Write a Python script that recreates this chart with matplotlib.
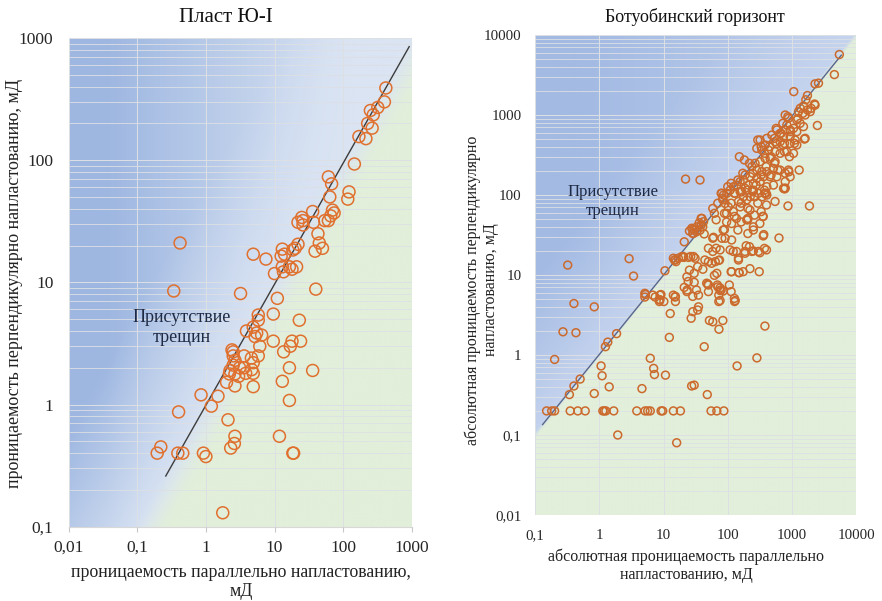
import numpy as np
import matplotlib
matplotlib.use("Agg")
import matplotlib.pyplot as plt
from matplotlib.ticker import FixedLocator, FixedFormatter, LogLocator, NullFormatter

plt.rcParams['font.family'] = ['Liberation Serif', 'DejaVu Serif']

# ---------------- data: left panel (Пласт Ю-I) ----------------
left_title = "Пласт Ю-I"
left_x = [420, 400, 320, 250, 275, 228, 265, 170, 215, 146, 61, 68, 122, 117, 64, 36, 70, 74, 66, 25,
          22, 26, 37, 54, 61, 26, 43, 45, 50, 39, 22, 20, 18.5, 13, 14, 12.5, 4.9, 7.5, 13, 16.5,
          21, 18, 13.5, 10, 0.42, 0.34, 3.2, 11, 40,
          5.8, 5.8, 9.6, 23, 3.9, 4.9, 5.2, 6.5, 5.5, 9.6, 18, 24, 17, 13.6, 6.1, 2.4, 2.5, 2.5, 3.6, 5.8,
          4.6, 4.9, 2.65, 2.5, 2.25, 3.1, 3.6, 4.65, 3.8, 4.9, 2.65, 3.0, 2.2, 16.5, 36, 13, 2.0, 2.65,
          4.9, 0.85, 1.5, 16.5, 1.2, 0.4, 2.1, 11.8, 2.65, 2.6, 2.3, 0.22, 0.195, 0.39, 0.46, 0.92, 1.0,
          18.5, 19, 1.76]
left_y = [390, 300, 270, 255, 235, 200, 183, 156, 150, 93, 73, 64, 55, 48, 50, 38, 39, 37, 35, 34,
          31, 32, 31, 32, 32, 29.5, 25, 21, 19, 18, 20.5, 19, 18.4, 18.7, 17, 16.4, 17, 15.5, 13.4, 13.4,
          13.4, 12.8, 12.2, 11.8, 21, 8.5, 8.1, 7.4, 8.8,
          5.4, 4.9, 5.5, 4.9, 4.0, 4.3, 3.6, 3.7, 3.85, 3.3, 3.3, 3.3, 3.0, 2.7, 3.0, 2.8, 2.7, 2.5, 2.5, 2.5,
          2.4, 2.2, 2.3, 2.1, 1.9, 2.0, 2.0, 1.93, 1.8, 1.8, 1.78, 1.7, 1.78, 2.0, 1.9, 1.55, 1.52, 1.42,
          1.4, 1.2, 1.17, 1.08, 0.97, 0.87, 0.75, 0.55, 0.55, 0.48, 0.44, 0.45, 0.4, 0.4, 0.4, 0.4, 0.375,
          0.4, 0.4, 0.13]
left_line_x = [0.26, 920]
left_line_y = [0.26, 850]
left_xticks = [0.01, 0.1, 1, 10, 100, 1000]
left_xlabels = ["0,01", "0,1", "1", "10", "100", "1000"]
left_yticks = [0.1, 1, 10, 100, 1000]
left_ylabels = ["0,1", "1", "10", "100", "1000"]
left_xlabel = "проницаемость параллельно напластованию,\nмД"
left_ylabel = "проницаемость перпендикулярно напластованию, мД"
left_note = "Присутствие\nтрещин"

# ---------------- data: right panel (Ботуобинский горизонт) ----------------
right_title = "Ботуобинский горизонт"
right_pts = [
    (5500, 5700), (4600, 3200), (2600, 2500), (2300, 2450), (1070, 1960), (1750, 1750), (1650, 1550),
    (2300, 1330), (2500, 740), (1570, 500), (1300, 205), (900, 195), (1880, 73), (870, 73), (770, 119),
    (630, 29), (22, 158), (37, 154), (0.32, 13.3), (2.9, 16), (3.4, 9.7), (310, 11),
    (0.4, 4.4), (0.83, 4.0), (0.27, 1.95), (0.43, 1.9), (0.2, 0.88), (1.85, 1.85), (1.35, 1.45),
    (1.24, 1.27), (0.5, 0.5), (0.4, 0.41), (0.34, 0.32),
    (0.15, 0.2), (0.18, 0.2), (0.2, 0.2), (0.35, 0.2), (0.46, 0.2), (0.6, 0.2), (1.13, 0.2), (1.19, 0.2),
    (1.26, 0.2), (1.67, 0.2), (3.82, 0.2), (5.14, 0.2), (5.65, 0.2), (6.2, 0.2), (9.15, 0.2), (9.7, 0.2),
    (14.2, 0.2), (18.3, 0.2), (55, 0.2), (67.6, 0.2), (87, 0.2),
    (1.93, 0.1), (16, 0.08), (0.83, 0.33), (1.06, 0.73), (1.1, 0.55), (1.42, 0.4), (4.6, 0.38),
    (6.2, 0.91), (7.0, 0.68), (7.2, 0.57), (10.7, 0.56), (12.3, 1.66), (12.7, 3.3), (26.9, 2.88),
    (28.6, 3.48), (34, 3.65), (35, 4.0), (51.8, 2.7), (58.5, 2.6), (84, 2.7), (73, 2.1), (43, 1.27),
    (140, 0.73), (285, 0.92), (380, 2.3), (27.4, 0.41), (30, 0.42), (48, 0.32),
    (10.1, 4.66), (8.6, 4.66), (15.3, 4.66), (128, 4.66), (72.6, 4.66),
    (5.1, 5.9), (5.1, 5.3), (7.4, 5.3), (8.8, 4.9), (15.1, 5.3), (10.5, 11.3), (15.1, 15.4), (21, 26),
    (23.1, 9.5), (24.2, 8.3), (23.1, 6.2), (30, 8.1), (26.5, 17), (31, 16.2), (32.6, 6.5), (27.5, 38.4),
    (32.6, 34.7), (14.2, 16.2), (17, 16.2), (20.4, 17),
    (15.6, 14.7), (28.6, 37.3), (29.3, 33.2), (37, 36.3), (39.5, 51), (42, 46.4), (38.6, 42.2),
    (43, 32.6), (58.5, 28.8), (66, 21.6), (50, 21.6), (58.5, 19.7), (76, 20.6), (74.5, 15.4), (64, 14.7),
    (50, 14.7), (85, 36.5), (91, 28.8), (115, 27.4), (109, 20.6), (137, 19.7), (147, 16.2), (194, 23.2),
    (186, 19.7), (237, 19.7), (302, 19.7), (251, 36.5), (358, 30.8), (222, 12), (115, 11), (174, 11),
    (67.6, 10.5), (47, 7.9), (69, 7.5), (76, 6.4), (50, 6.2), (35, 5.6), (19.2, 17), (14.2, 5.6),
    (8.8, 5.6),
    (80.7, 105), (84, 91), (91, 78.5), (96, 59), (102, 71), (122, 62), (147, 83), (156, 71), (137, 51),
    (165, 110), (198, 87), (222, 65), (264, 95), (377, 105), (402, 75), (547, 83), (788, 122), (358, 54),
    (317, 44), (251, 40), (198, 49), (115, 44), (96, 46),
    (205, 49), (89, 37), (60, 29.6), (81, 28.8), (122, 19.7), (186, 18.7), (251, 20), (317, 19),
    (402, 20.6), (147, 15.4), (44, 15.4), (56, 14), (72, 15.2), (151, 10.7), (50, 7.5), (76, 6.9),
    (85, 6.3), (76, 4.8), (131, 4.8),
    (787, 1000), (885, 908), (834, 750), (940, 650), (787, 650), (656, 590), (741, 536), (1060, 681),
    (1194, 619), (1345, 787), (1517, 715), (1610, 511), (1125, 487), (940, 442), (723, 422), (583, 442),
    (487, 562), (407, 511), (383, 422), (320, 487), (284, 383), (340, 365), (432, 365), (548, 348),
    (656, 332), (834, 348), (1060, 332), (458, 287), (548, 261), (383, 287), (320, 261), (267, 249),
    (238, 226), (284, 205), (340, 196), (407, 196), (516, 215), (656, 205), (885, 205), (458, 169),
    (361, 169), (284, 162), (224, 169), (187, 178), (176, 154), (156, 147), (138, 133), (123, 127),
    (109, 115), (97, 105), (86, 100), (130, 105), (156, 110), (187, 121), (210, 133), (252, 140),
    (320, 147), (407, 127), (516, 133), (741, 121), (252, 115), (301, 105), (407, 100), (176, 95),
    (224, 95), (1194, 866), (548, 464), (656, 464), (1194, 422), (940, 536), (583, 650), (583, 169),
    (787, 187), (940, 169), (787, 147), (383, 105), (1518, 1296), (1350, 1214), (1270, 1101),
    (1610, 1000), (1750, 1155), (1930, 1101),
    (38.5, 51), (36, 45), (33, 40), (30, 36.5), (28.5, 33), (25.3, 35.5), (40.8, 40), (14.8, 15.4),
    (20.6, 16.6), (24.4, 16.6), (29.3, 17), (25.3, 11.5), (30, 10.5), (41, 11.8), (34, 12.7), (5.2, 5.7),
    (6.8, 5.6), (9.1, 5.7), (8.6, 4.9), (15.3, 5.4), (23.3, 6.5), (21, 7), (28.5, 5.4), (72.6, 5.6),
    (127, 5.1), (62, 9.9), (70, 7.1), (79, 6.5), (113, 6.2), (49, 7.7), (106, 7.5), (113, 11),
    (149, 10.7), (218, 22.6), (374, 21.5), (261, 97), (344, 95), (397, 105), (1099, 442), (767, 442),
    (953, 619), (681, 590), (536, 511), (448, 402), (767, 348), (918, 301), (2000, 1211), (2255, 1372),
    (1483, 1050), (1239, 908), (865, 953), (723, 787), (569, 681), (294, 487), (332, 402), (374, 332),
    (475, 301), (536, 249), (397, 226), (604, 205), (475, 178), (332, 178), (246, 187), (218, 249),
    (182, 274), (152, 301), (172, 187), (144, 154), (113, 140), (100, 127), (127, 105), (162, 110),
    (201, 115), (246, 110), (162, 79), (206, 68), (294, 79), (332, 62), (277, 133), (374, 115),
    (79, 105), (84, 87), (70, 79), (62, 59), (89, 59), (113, 79), (66, 49), (58.5, 68), (127, 54),
    (162, 46), (206, 51), (261, 56), (144, 36.5), (206, 33), (352, 54), (365, 32),
]
right_x = [p[0] for p in right_pts]
right_y = [p[1] for p in right_pts]
right_line_x = [0.13, 5900]
right_line_y = [0.135, 5600]
right_xticks = [0.1, 1, 10, 100, 1000, 10000]
right_xlabels = ["0,1", "1", "10", "100", "1000", "10000"]
right_yticks = [0.01, 0.1, 1, 10, 100, 1000, 10000]
right_ylabels = ["0,01", "0,1", "1", "10", "100", "1000", "10000"]
right_xlabel = "абсолютная проницаемость параллельно\nнапластованию, мД"
right_ylabel = "абсолютная проницаемость перпендикулярно\nнапластованию, мД"
right_note = "Присутствие\nтрещин"

# ---------------- figure ----------------
W, H = 882, 601
fig = plt.figure(figsize=(W / 100, H / 100), dpi=100)
fig.patch.set_facecolor('white')


def background(ax, xlog, ylog, light, dark, green, center, half, hslope):
    n = 400
    u = np.linspace(0, 1, n)
    v = np.linspace(1, 0, n)
    U, V = np.meshgrid(u, v)
    lx = xlog[0] + (xlog[1] - xlog[0]) * U
    ly = ylog[0] + (ylog[1] - ylog[0]) * V
    d = ly - lx
    t = np.clip((d - center) / 2.0, 0, 1) * np.clip(1.15 - hslope * U, 0, 1)
    blue = np.array(light)[None, None, :] * (1 - t[..., None]) + np.array(dark)[None, None, :] * t[..., None]
    s = np.clip((d - (center - half)) / (2 * half), 0, 1)
    s = s * s * (3 - 2 * s)
    img = blue * s[..., None] + np.array(green)[None, None, :] * (1 - s[..., None])
    ax.imshow(img / 255.0, extent=[0, 1, 0, 1], transform=ax.transAxes, aspect='auto',
              zorder=0, interpolation='bilinear')


def style_axes(ax, xt, xl, yt, yl, fs, xpad, ypad):
    ax.set_xscale('log')
    ax.set_yscale('log')
    for sp in ax.spines.values():
        sp.set_visible(False)
    ax.xaxis.set_major_locator(FixedLocator(xt))
    ax.xaxis.set_major_formatter(FixedFormatter(xl))
    ax.xaxis.set_minor_locator(FixedLocator([]))
    ax.yaxis.set_major_locator(FixedLocator(yt))
    ax.yaxis.set_major_formatter(FixedFormatter(yl))
    ax.yaxis.set_minor_locator(LogLocator(base=10, subs=np.arange(2, 10)))
    ax.yaxis.set_minor_formatter(NullFormatter())
    ax.tick_params(axis='both', which='both', length=0, labelsize=fs, colors='#262626')
    ax.tick_params(axis='x', pad=xpad)
    ax.tick_params(axis='y', pad=ypad)
    ax.grid(True, which='major', axis='both', color='#dde0e4', lw=0.7, zorder=1)
    ax.grid(True, which='minor', axis='y', color='#dde0e4', lw=0.6, zorder=1)
    ax.set_axisbelow(False)


# left axes
axL = fig.add_axes([68.7 / W, 1 - 526.7 / H, 343 / W, 488.7 / H])
style_axes(axL, left_xticks, left_xlabels, left_yticks, left_ylabels, 12.5, 6, 11)
axL.tick_params(axis='x', which='major', length=3.5, width=0.8, color='#c8c8c8')
axL.spines['bottom'].set_visible(True)
axL.spines['bottom'].set_color('#d8d8d8')
axL.spines['bottom'].set_linewidth(0.8)
axL.set_xlim(0.01, 1000)
axL.set_ylim(0.1, 1000)
background(axL, (-2, 3), (-1, 3), (218, 228, 243), (158, 183, 225), (226, 239, 218), -0.2, 0.28, 1.4)
axL.plot(left_line_x, left_line_y, color='#3c3c3c', lw=1.0, zorder=3)
axL.scatter(left_x, left_y, s=74, facecolors='none', edgecolors='#E0702E', linewidths=1.1, zorder=4)
axL.text(0.45, 4.3, left_note, ha='center', va='center', fontsize=13, color='#1f2a44', zorder=5,
         linespacing=1.25)
fig.text(226 / W, 1 - 18 / H, left_title, ha='center', va='center', fontsize=15, color='#111111')
fig.text(241 / W, 1 - 581.7 / H, left_xlabel, ha='center', va='center', fontsize=12.8,
         color='#222222', linespacing=1.15)
fig.text(15 / W, 1 - 283 / H, left_ylabel, ha='center', va='center', rotation=90, fontsize=13,
         color='#222222')

# right axes
axR = fig.add_axes([535.3 / W, 1 - 515 / H, 320.7 / W, 480 / H])
style_axes(axR, right_xticks, right_xlabels, right_yticks, right_ylabels, 10.8, 10, 10)
axR.set_xlim(0.1, 10000)
axR.set_ylim(0.01, 10000)
background(axR, (-1, 4), (-2, 4), (196, 211, 238), (163, 186, 227), (226, 239, 218), 0.0, 0.05, 1.0)
axR.plot(right_line_x, right_line_y, color='#58658c', lw=1.0, zorder=3)
axR.scatter(right_x, right_y, s=32, facecolors='none', edgecolors='#CB6A2C', linewidths=1.1, zorder=4)
axR.text(1.6, 84, right_note, ha='center', va='center', fontsize=12, color='#1f2a44', zorder=5,
         linespacing=1.25)
fig.text(695 / W, 1 - 17 / H, right_title, ha='center', va='center', fontsize=13, color='#111111')
fig.text(686 / W, 1 - 566 / H, right_xlabel, ha='center', va='center', fontsize=11.5,
         color='#222222', linespacing=1.15)
fig.text(482 / W, 1 - 290 / H, right_ylabel, ha='center', va='center', rotation=90, fontsize=11.5,
         color='#222222', linespacing=1.15)

fig.savefig('out.png', dpi=100, facecolor='white')
